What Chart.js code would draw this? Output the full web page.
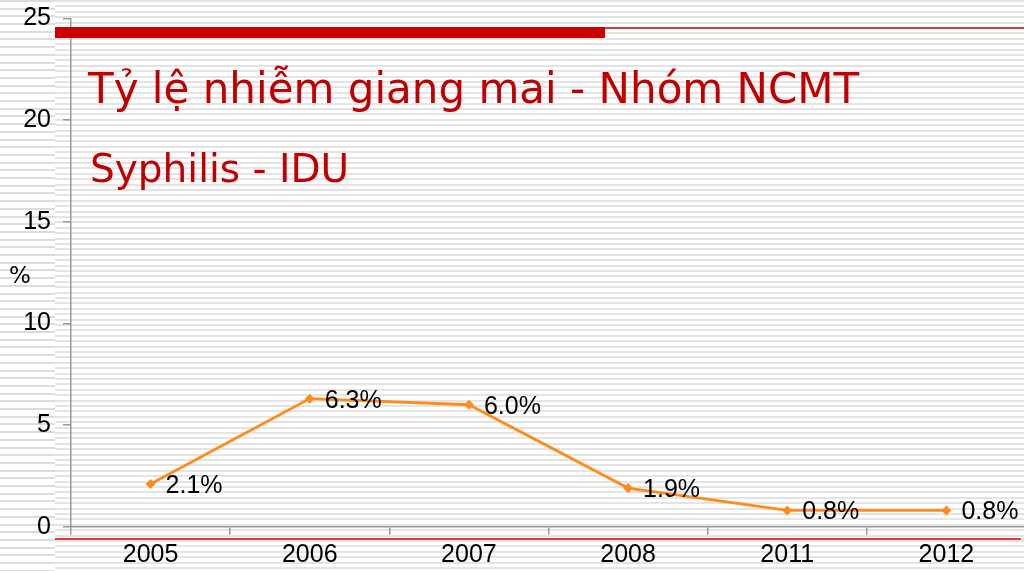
<!DOCTYPE html>
<html>
<head>
<meta charset="utf-8">
<script src="https://cdn.jsdelivr.net/npm/chart.js@4.4.0/dist/chart.umd.min.js"></script>
<style>
  html, body { margin:0; padding:0; width:1024px; height:571px; overflow:hidden; background:#fff; }
  #bgLeft { position:absolute; left:0; top:0; width:55px; height:571px;
    background: repeating-linear-gradient(to bottom, #dcdcdc 0px, #dcdcdc 2px, #ffffff 2px, #ffffff 7.7px); }
  #bgMain { position:absolute; left:55px; top:0; width:969px; height:571px;
    background: repeating-linear-gradient(to bottom, #e4e4e4 0px, #e4e4e4 2px, #ffffff 2px, #ffffff 5.4px); }
  #wrap { position:absolute; left:0; top:0; width:1031px; height:571px; }
  .abs { position:absolute; }
  #topBar { left:55px; top:27px; width:550px; height:11px; background:#cc0000; }
  #topLine { left:605px; top:27px; width:419px; height:1.5px; background:#d83a3a; }
  #botLine { left:55px; top:537.5px; width:966px; height:2px; background:#e0393e; }
  #title { left:88px; top:68px; font-family:"DejaVu Sans"; font-size:42px; color:#c00000; white-space:nowrap; line-height:1; }
  #subtitle { left:90px; top:149px; font-family:"DejaVu Sans"; font-size:39px; color:#c00000; white-space:nowrap; line-height:1; }
  #pct { left:9px; top:264px; font-family:"DejaVu Sans"; font-size:23px; color:#000; line-height:1; }
</style>
</head>
<body>
<div id="bgLeft"></div>
<div id="bgMain"></div>
<div class="abs" id="botLine"></div>
<div id="wrap"><canvas id="c" width="1031" height="571"></canvas></div>
<div class="abs" id="topBar"></div>
<div class="abs" id="topLine"></div>
<div class="abs" id="title">Tỷ lệ nhiễm giang mai - Nhóm NCMT</div>
<div class="abs" id="subtitle">Syphilis - IDU</div>
<div class="abs" id="pct">%</div>
<script>
const categories = ["2005", "2006", "2007", "2008", "2011", "2012"];
const syphilisIDU = [2.1, 6.3, 6.0, 1.9, 0.8, 0.8];
const yTicks = [0, 5, 10, 15, 20, 25];

const labelPlugin = {
  id: 'pointLabels',
  afterDatasetsDraw(chart) {
    const ctx = chart.ctx;
    const meta = chart.getDatasetMeta(0);
    ctx.save();
    ctx.font = '25px "Liberation Sans"';
    ctx.fillStyle = '#000';
    ctx.textAlign = 'left';
    ctx.textBaseline = 'middle';
    meta.data.forEach((pt, i) => {
      ctx.fillText(syphilisIDU[i].toFixed(1) + '%', pt.x + 15, pt.y + 2);
    });
    ctx.restore();
  }
};

new Chart(document.getElementById('c'), {
  type: 'line',
  data: {
    labels: categories,
    datasets: [{
      data: syphilisIDU,
      borderColor: '#ff8c1a',
      backgroundColor: '#ff8c1a',
      borderWidth: 2.8,
      pointStyle: 'rectRot',
      pointRadius: 5,
      pointBorderWidth: 0,
      tension: 0,
      fill: false
    }]
  },
  options: {
    responsive: false,
    animation: false,
    layout: { padding: { top: 18.5, right: 0, bottom: 0, left: 0 } },
    plugins: { legend: { display: false }, tooltip: { enabled: false }, title: { display: false } },
    scales: {
      x: {
        type: 'category',
        offset: true,
        afterFit(s) { s.height = 44.3; s.paddingLeft = 0; s.paddingRight = 0; },
        grid: { offset: true, drawOnChartArea: false, drawTicks: true, tickLength: 8, color: '#999', lineWidth: 1.5 },
        border: { display: true, color: '#999', width: 1.5 },
        ticks: { font: { family: 'Liberation Sans', size: 25 }, color: '#000', padding: 5, maxRotation: 0 }
      },
      y: {
        min: 0, max: 25,
        afterFit(s) { s.width = 71; s.paddingTop = 0; s.paddingBottom = 0; },
        afterBuildTicks(s) { s.ticks = yTicks.map(v => ({ value: v })); },
        grid: { drawOnChartArea: false, drawTicks: true, tickLength: 8, color: '#999', lineWidth: 1.5 },
        border: { display: true, color: '#999', width: 1.5 },
        ticks: { font: { family: 'Liberation Sans', size: 25 }, color: '#000', padding: 12 }
      }
    }
  },
  plugins: [labelPlugin]
});
</script>
</body>
</html>
